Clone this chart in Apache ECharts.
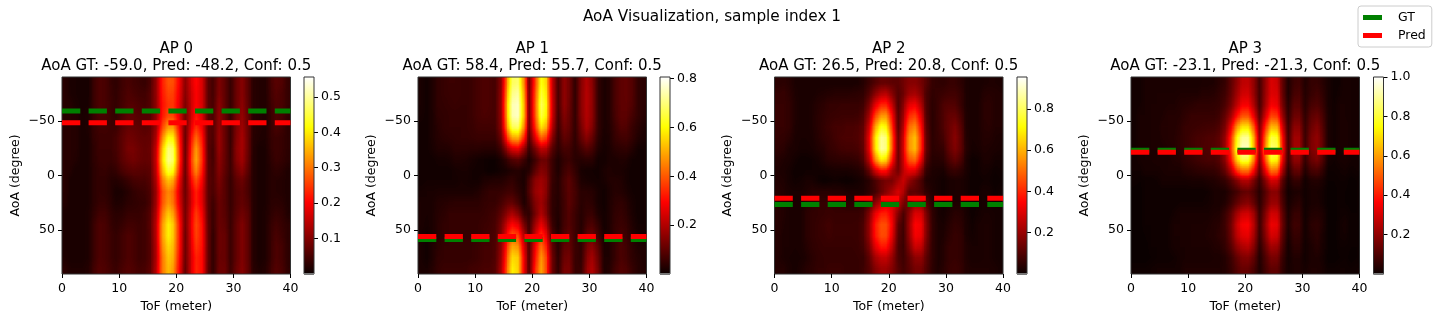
<!DOCTYPE html>
<html>
<head>
<meta charset="utf-8">
<title>AoA Visualization</title>
<script src="https://cdn.jsdelivr.net/npm/echarts@6/dist/echarts.min.js"></script>
<style>
    html, body { margin: 0; padding: 0; background: #fff; }
    #page { position: relative; width: 1438px; height: 321px; overflow: hidden; }
    #overlay { position: absolute; left: 0; top: 0; width: 1438px; height: 321px; }
    .plot { position: absolute; overflow: hidden; background: #000; filter: url(#hot); }
    .cells { position: absolute; left: 0; top: 0; transform-origin: 0 0; }
</style>
</head>
<body>
<svg width="0" height="0" style="position:absolute">
    <filter id="hot" x="0" y="0" width="1" height="1" color-interpolation-filters="sRGB">
        <feComponentTransfer>
            <feFuncR id="hotR" type="table"></feFuncR>
            <feFuncG id="hotG" type="table"></feFuncG>
            <feFuncB id="hotB" type="table"></feFuncB>
        </feComponentTransfer>
    </filter>
</svg>
<div id="page"><div id="overlay"></div></div>
<script>
// values are hundredths, rows from AoA -85 to 85, columns from ToF 0.5 to 39.5
const tofCenters = Array.from({ length: 40 }, (_, i) => String(i + 0.5));
const aoaCenters = ['-85','-75','-65','-55','-45','-35','-25','-15','-5','5','15','25','35','45','55','65','75','85'];

const ap0Values = [
    [3,2,2,2,1,4,6,6,5,3,5,6,5,5,4,5,9,22,28,29,24,9,16,22,20,7,4,11,9,2,8,12,8,3,3,2,5,7,7,4],
    [3,2,2,2,1,4,6,6,5,3,5,6,6,5,5,6,9,22,27,27,23,9,15,21,20,7,4,11,9,2,8,12,8,3,3,2,5,7,6,4],
    [3,3,2,2,1,4,6,6,5,4,5,6,6,6,5,6,9,21,25,26,22,8,14,21,20,7,4,12,9,2,8,12,8,3,3,2,5,6,6,4],
    [3,3,3,2,2,4,6,6,5,4,5,7,7,6,6,6,9,21,25,26,21,7,14,22,20,7,4,13,10,2,8,13,9,3,3,2,4,6,6,4],
    [3,3,3,2,2,4,5,6,5,4,6,8,8,7,6,7,9,23,30,32,24,6,15,24,22,7,4,13,10,2,9,14,10,3,3,2,4,6,6,3],
    [3,3,3,2,2,4,5,5,5,5,7,9,9,8,7,7,9,28,39,42,28,4,17,29,25,7,4,14,10,2,9,15,10,3,3,2,4,5,5,3],
    [3,3,3,2,2,3,5,5,5,5,7,10,10,9,8,8,11,33,47,50,31,3,19,35,28,7,3,14,10,2,10,15,10,3,2,2,4,5,5,3],
    [3,3,3,2,2,3,5,5,5,5,7,9,10,9,8,8,11,36,50,54,33,3,20,38,29,7,3,13,10,2,10,15,10,3,2,2,3,5,5,3],
    [3,3,2,2,2,3,4,5,4,4,6,8,8,8,7,7,11,34,47,49,31,3,20,36,28,7,4,12,9,3,9,13,9,3,2,2,3,4,4,2],
    [3,2,2,2,2,3,4,4,3,3,4,5,6,6,6,6,10,30,39,40,26,4,18,30,25,7,5,11,8,3,7,10,7,3,2,2,3,3,3,2],
    [3,2,2,2,2,3,4,4,3,2,2,3,4,5,5,6,9,26,33,32,22,5,15,25,21,7,5,10,8,3,6,8,6,3,2,2,3,3,3,2],
    [3,2,2,2,2,3,4,4,3,2,2,3,3,4,4,5,9,26,32,31,21,6,14,24,21,7,4,9,8,3,6,8,7,3,2,2,3,3,3,2],
    [2,2,2,2,2,3,5,5,4,3,3,4,4,4,5,6,10,28,36,35,24,6,15,26,23,8,3,9,8,3,6,9,8,3,2,2,3,4,4,2],
    [2,2,2,2,2,4,6,6,4,3,4,5,5,5,5,6,11,31,41,40,27,6,16,28,25,8,3,9,9,3,7,11,9,3,2,2,4,5,5,3],
    [2,2,2,2,2,4,6,6,5,4,5,6,6,5,5,6,11,32,42,41,28,5,16,28,26,9,2,9,10,3,7,11,9,3,2,2,4,6,5,3],
    [2,2,2,2,2,4,6,6,5,4,5,6,6,5,5,6,10,31,40,39,28,5,15,26,26,9,2,9,10,3,7,11,9,3,2,2,4,6,6,3],
    [2,2,2,2,2,4,6,6,5,4,5,6,6,5,5,6,10,29,38,38,27,5,15,24,25,9,2,9,10,3,7,11,9,3,2,2,4,6,6,3],
    [3,2,2,2,2,4,6,6,5,4,5,6,6,5,5,6,10,28,36,36,26,5,14,23,25,9,2,8,10,3,7,11,9,3,2,2,4,6,6,3]
];

const ap1Values = [
    [3,2,3,5,6,7,7,7,6,7,8,9,9,8,9,40,66,72,56,4,30,62,62,28,4,18,17,2,14,22,19,6,3,3,8,11,12,10,6,4],
    [3,2,3,5,6,7,7,7,6,7,8,9,9,8,9,42,70,76,60,4,32,66,64,28,4,18,17,2,14,23,20,6,3,3,8,11,12,10,6,4],
    [3,2,3,5,6,6,7,7,6,7,8,9,9,8,9,46,74,80,64,4,34,70,68,30,4,18,17,2,14,23,20,6,3,3,8,11,12,10,6,4],
    [3,2,3,5,5,6,6,6,6,7,8,9,9,8,9,46,76,81,66,4,34,70,68,30,4,17,16,2,14,23,20,6,3,3,8,11,11,9,6,4],
    [2,2,3,4,5,6,6,6,6,7,8,8,8,8,9,44,72,78,62,4,32,64,62,28,4,15,15,3,13,22,19,6,3,3,7,10,10,8,5,3],
    [2,2,3,4,5,5,5,6,6,6,7,7,7,7,8,36,58,62,50,4,26,50,48,22,4,12,13,3,11,19,16,5,3,3,6,8,9,7,4,3],
    [2,2,3,4,4,4,5,5,5,5,5,5,5,5,6,20,32,38,28,4,14,28,28,14,4,9,10,4,8,13,11,4,3,3,5,6,7,5,3,2],
    [2,2,2,3,3,3,4,4,4,3,3,2,2,2,3,7,12,15,10,3,6,12,14,8,3,5,7,4,4,7,6,3,2,3,3,4,4,3,2,2],
    [2,2,2,2,2,2,3,3,3,3,2,2,1,1,2,2,3,4,4,2,7,14,15,8,2,6,9,6,3,2,3,2,3,4,3,3,3,2,2,2],
    [2,2,2,2,2,2,2,3,3,2,2,3,3,3,3,4,5,4,2,6,14,19,17,8,3,8,11,8,3,3,2,2,3,4,4,4,3,2,2,2],
    [2,3,3,3,3,3,3,3,3,3,3,4,5,5,5,6,7,5,2,8,18,21,18,7,3,8,12,9,4,4,4,3,2,3,4,4,3,2,2,2],
    [3,3,3,4,4,4,4,4,4,4,4,5,6,6,7,9,10,7,2,6,16,21,16,6,3,7,11,9,4,5,5,3,2,3,4,5,4,3,2,2],
    [3,3,3,4,4,5,5,5,5,5,6,6,7,7,9,13,17,14,4,3,10,20,14,5,3,7,10,8,4,6,6,3,2,3,5,6,5,3,2,2],
    [3,3,3,4,5,5,6,6,5,5,6,7,7,8,11,21,28,26,13,3,15,28,20,6,2,7,10,8,3,7,9,5,2,3,5,7,6,4,2,2],
    [3,2,3,4,5,6,6,6,5,6,6,7,8,8,12,26,38,38,22,3,20,36,28,9,2,8,11,8,3,9,12,8,2,3,6,8,7,4,3,2],
    [3,2,3,4,5,6,6,6,6,6,7,8,8,8,13,30,48,50,28,3,24,44,36,12,2,10,13,8,3,12,17,11,3,3,6,9,8,5,3,3],
    [3,2,3,5,5,6,6,6,6,6,7,8,8,8,14,34,56,60,33,3,26,50,42,14,2,12,15,8,3,14,21,14,3,3,6,9,8,5,4,3],
    [3,2,3,5,6,6,6,6,6,7,7,8,8,8,14,35,58,62,35,3,28,52,44,16,2,13,16,7,3,15,22,16,3,3,6,9,9,6,4,3]
];

const ap2Values = [
    [4,5,5,3,3,3,3,3,3,3,3,3,3,3,3,4,6,9,10,11,11,12,16,18,18,17,13,8,6,5,6,7,6,4,3,3,4,4,4,3],
    [6,7,6,4,3,3,3,4,4,4,4,4,4,4,5,5,8,14,20,22,17,10,14,19,20,18,11,7,7,8,8,9,7,4,3,3,4,5,5,4],
    [7,8,7,4,3,3,4,5,5,6,6,6,6,6,6,7,12,26,35,38,28,8,16,28,32,24,11,5,8,10,11,11,8,4,3,3,5,6,5,4],
    [7,8,7,5,3,3,4,5,6,7,7,8,8,8,8,9,16,38,50,55,40,7,18,38,44,33,12,4,8,11,13,14,10,4,3,3,5,6,5,4],
    [7,8,7,4,3,3,4,5,6,8,9,9,10,10,10,11,20,52,68,72,48,6,20,46,56,40,13,4,8,10,14,18,13,4,3,3,5,6,5,4],
    [6,7,6,4,3,3,3,5,6,8,9,10,11,11,11,12,24,62,84,88,56,7,24,54,67,47,15,4,8,9,14,20,15,4,3,3,5,5,5,3],
    [6,6,5,4,3,3,3,5,5,7,8,9,10,10,10,12,24,66,90,95,60,8,26,56,70,50,16,5,7,7,13,20,16,5,3,3,5,5,4,3],
    [5,5,4,3,2,2,2,3,4,6,7,8,8,8,8,10,21,58,80,84,54,9,26,50,62,44,14,5,6,5,11,17,14,5,2,2,4,4,3,2],
    [4,4,3,2,2,2,2,2,3,4,4,4,4,5,5,6,13,34,48,50,33,11,24,36,40,28,9,5,4,3,7,10,8,4,2,2,3,3,2,2],
    [4,4,3,2,2,3,3,2,1,1,2,2,1,1,2,3,5,10,16,18,15,16,30,24,20,13,5,4,3,2,3,4,4,3,2,2,2,2,2,1],
    [5,5,4,3,3,4,5,5,4,4,3,4,3,3,3,3,4,6,10,14,18,30,30,14,10,8,4,4,3,2,3,4,4,3,2,2,3,3,2,2],
    [5,5,4,3,3,4,5,6,6,6,6,6,5,5,5,5,7,12,20,26,28,32,22,10,18,18,10,4,3,2,3,4,4,3,2,2,3,3,2,2],
    [5,5,4,3,3,5,6,7,7,8,7,7,7,7,7,8,13,29,36,38,33,22,8,16,28,30,18,6,3,2,3,5,5,3,2,2,3,3,3,2],
    [5,5,4,3,3,5,6,7,8,9,8,8,8,8,8,9,16,37,46,48,40,15,5,18,36,38,22,7,3,3,4,6,6,4,2,3,4,4,3,2],
    [5,4,4,3,3,5,6,7,8,9,8,8,8,8,8,9,16,38,48,50,40,13,5,18,37,38,22,7,3,3,5,7,7,4,2,3,4,4,3,2],
    [5,4,4,3,3,5,6,7,7,8,8,8,8,8,8,9,14,32,42,44,34,11,5,16,31,33,19,7,3,4,6,8,7,4,3,3,4,4,3,2],
    [5,4,3,3,3,4,5,6,7,7,7,7,7,7,7,8,11,24,30,32,26,11,6,12,22,24,15,7,3,4,6,8,7,5,3,3,4,4,3,2],
    [4,4,3,2,3,4,5,6,6,7,7,7,6,6,6,7,9,16,21,22,19,12,8,10,15,17,12,6,3,4,6,8,7,4,3,3,3,3,3,2]
];

const ap3Values = [
    [2,2,3,3,3,3,3,3,3,3,3,3,3,3,4,5,7,11,19,27,29,25,4,18,32,33,18,2,8,11,3,7,8,6,3,2,2,3,3,2],
    [2,2,3,3,4,4,4,4,4,4,4,4,5,5,5,6,8,12,21,29,31,26,4,19,32,34,19,2,9,12,3,7,9,7,3,2,2,3,3,2],
    [2,2,3,4,4,4,4,4,5,5,5,6,6,6,6,7,9,14,24,33,35,28,4,20,34,36,20,2,11,14,3,9,11,9,3,2,3,3,3,2],
    [2,3,3,4,4,4,5,5,5,6,7,7,7,7,7,8,11,18,31,42,45,35,4,23,42,44,24,2,14,18,3,11,15,11,3,2,3,3,3,2],
    [2,3,3,4,4,5,5,5,6,7,8,8,9,9,9,10,14,26,52,62,66,54,5,34,58,62,36,2,18,24,4,14,19,14,3,2,3,4,3,2],
    [2,3,3,4,4,5,5,6,6,8,9,10,10,11,11,12,18,35,72,86,92,74,5,44,78,84,48,2,22,29,4,17,23,17,3,2,3,4,3,2],
    [2,3,3,4,4,4,5,5,6,8,9,10,11,11,12,13,20,39,80,96,100,80,5,50,88,95,54,2,24,31,4,18,24,18,3,2,3,4,3,2],
    [2,3,3,3,4,4,4,5,5,7,8,10,10,11,11,12,18,36,74,90,94,76,5,46,84,90,50,2,22,29,4,16,21,16,3,2,3,3,3,2],
    [2,2,3,3,3,3,4,4,4,6,6,7,8,8,9,10,14,26,54,64,68,56,5,34,62,68,38,2,15,21,3,11,14,11,2,2,2,3,2,2],
    [2,2,2,2,2,3,3,3,3,3,4,4,4,5,5,6,8,13,22,30,33,25,4,18,36,40,20,2,8,11,2,5,6,5,2,2,2,2,2,1],
    [1,1,2,2,2,2,2,2,2,2,2,2,2,2,3,3,4,6,9,13,15,13,3,10,20,22,12,2,4,5,2,3,3,3,1,1,2,2,1,1],
    [1,1,2,2,2,2,2,2,2,2,2,2,2,2,3,3,4,6,9,13,16,13,2,10,20,22,12,2,4,6,2,3,3,3,1,1,2,2,1,1],
    [1,1,2,2,2,2,2,2,3,3,3,3,3,3,4,4,6,10,21,26,29,25,2,15,28,30,16,2,7,9,2,4,5,4,2,1,2,2,2,1],
    [1,1,2,2,2,2,2,3,3,3,4,4,4,4,5,5,8,13,29,36,39,33,2,18,36,38,20,2,9,11,2,5,7,5,2,1,2,3,2,1],
    [1,1,2,2,2,2,2,3,3,3,4,4,4,5,5,6,8,13,29,35,38,32,2,17,34,36,19,2,8,10,2,5,7,5,2,1,2,3,2,1],
    [1,1,1,2,2,2,2,3,3,3,4,4,4,4,5,5,7,11,22,27,30,26,2,13,26,28,15,2,6,8,2,4,6,4,2,1,2,2,2,1],
    [1,1,1,2,2,2,2,2,3,3,3,3,3,3,4,4,5,8,16,20,22,19,2,10,19,21,11,2,5,6,2,3,5,3,2,1,2,2,2,1],
    [1,1,1,1,2,2,2,2,2,3,3,3,3,3,3,3,4,6,10,14,15,12,2,7,13,14,8,2,3,4,2,3,3,3,1,1,1,2,1,1]
];

const heatValues = [ap0Values, ap1Values, ap2Values, ap3Values];
const panelNames = ['AP 0', 'AP 1', 'AP 2', 'AP 3'];
const aoaGt = [-59.0, 58.4, 26.5, -23.1];
const aoaPred = [-48.2, 55.7, 20.8, -21.3];
const aoaConf = [0.5, 0.5, 0.5, 0.5];
const colorMax = [0.556, 0.807, 0.955, 1.0];
const colorTicks = [
    [0.1, 0.2, 0.3, 0.4, 0.5],
    [0.2, 0.4, 0.6, 0.8],
    [0.2, 0.4, 0.6, 0.8],
    [0.2, 0.4, 0.6, 0.8, 1.0]
];
const tofTicks = [0, 10, 20, 30, 40];
const aoaTicks = [-50, 0, 50];

const plotLeft = [62, 418, 774.5, 1131];
const plotWidth = 228.5;
const plotTop = 77;
const plotHeight = 197;
const barLeft = [304, 660, 1017, 1373.5];
const barWidth = 10;

const fontName = '"DejaVu Sans", sans-serif';

// matplotlib hot
const clamp01 = v => Math.max(0, Math.min(1, v));
const hotR = t => clamp01(0.0416 + (1 - 0.0416) * t / 0.365079);
const hotG = t => clamp01((t - 0.365079) / (0.746032 - 0.365079));
const hotB = t => clamp01((t - 0.746032) / (1 - 0.746032));
const hotSteps = Array.from({ length: 129 }, (_, i) => i / 128);
const hotStops = hotSteps.map(t => 'rgb(' + Math.round(255 * hotR(t)) + ',' + Math.round(255 * hotG(t)) + ',' + Math.round(255 * hotB(t)) + ')');

document.getElementById('hotR').setAttribute('tableValues', hotSteps.map(hotR).join(' '));
document.getElementById('hotG').setAttribute('tableValues', hotSteps.map(hotG).join(' '));
document.getElementById('hotB').setAttribute('tableValues', hotSteps.map(hotB).join(' '));

// each heatmap is drawn in gray at one pixel per cell and stretched,
// the svg filter then applies hot to the smoothed values, like imshow does
const page = document.getElementById('page');
heatValues.forEach((rows, p) => {
    const plot = document.createElement('div');
    plot.className = 'plot';
    plot.style.left = plotLeft[p] + 'px';
    plot.style.top = plotTop + 'px';
    plot.style.width = plotWidth + 'px';
    plot.style.height = plotHeight + 'px';

    const div = document.createElement('div');
    div.className = 'cells';
    div.style.width = tofCenters.length + 'px';
    div.style.height = aoaCenters.length + 'px';
    div.style.transform = 'scale(' + plotWidth / tofCenters.length + ',' + plotHeight / aoaCenters.length + ')';
    plot.appendChild(div);
    page.insertBefore(plot, page.firstChild);

    const data = [];
    rows.forEach((row, y) => row.forEach((v, x) => data.push([x, y, v / 100])));

    const cells = echarts.init(div, null, { devicePixelRatio: 1 });
    cells.setOption({
        animation: false,
        grid: { left: 0, right: 0, top: 0, bottom: 0 },
        xAxis: { type: 'category', data: tofCenters, show: false },
        yAxis: { type: 'category', data: aoaCenters, inverse: true, show: false },
        visualMap: { show: false, min: 0, max: colorMax[p], inRange: { color: ['#000', '#fff'] } },
        series: [{ type: 'heatmap', data, progressive: 0, silent: true }]
    });
});

const grids = [];
const xAxes = [];
const yAxes = [];
const series = [];
const graphics = [];
const titles = [{
    text: 'AoA Visualization, sample index 1',
    left: 712,
    top: 10,
    padding: 0,
    textAlign: 'center',
    textStyle: { fontFamily: fontName, fontSize: 15.3, fontWeight: 'normal', color: '#000' }
}];

const axisText = { fontFamily: fontName, fontSize: 12.5, color: '#000' };
const nameText = { fontFamily: fontName, fontSize: 12.5, color: '#000' };

panelNames.forEach((name, p) => {
    grids.push({
        left: plotLeft[p],
        top: plotTop,
        width: plotWidth,
        height: plotHeight,
        show: true,
        backgroundColor: 'transparent',
        borderColor: '#333',
        borderWidth: 1
    });
    xAxes.push({
        type: 'value',
        gridIndex: p,
        min: 0,
        max: 40,
        name: 'ToF (meter)',
        nameLocation: 'middle',
        nameGap: 25,
        nameTextStyle: nameText,
        axisLine: { show: false, onZero: false },
        splitLine: { show: false },
        axisTick: { length: 4, lineStyle: { color: '#000' }, customValues: tofTicks },
        axisLabel: { ...axisText, margin: 8, customValues: tofTicks }
    });
    yAxes.push({
        type: 'value',
        gridIndex: p,
        inverse: true,
        min: -90,
        max: 90,
        name: 'AoA (degree)',
        nameLocation: 'middle',
        nameGap: 40,
        nameTextStyle: nameText,
        axisLine: { show: false, onZero: false },
        splitLine: { show: false },
        axisTick: { length: 4, lineStyle: { color: '#000' }, customValues: aoaTicks },
        axisLabel: {
            ...axisText,
            margin: 7,
            customValues: aoaTicks,
            formatter: v => String(v).replace('-', '\u2212')
        }
    });
    const dash = { width: 5, type: [18.3, 8.3], cap: 'butt' };
    series.push({
        name: 'GT',
        type: 'line',
        xAxisIndex: p,
        yAxisIndex: p,
        data: [[0, aoaGt[p]], [40, aoaGt[p]]],
        symbol: 'none',
        silent: true,
        itemStyle: { color: '#008000' },
        lineStyle: { ...dash, color: '#008000' }
    }, {
        name: 'Pred',
        type: 'line',
        xAxisIndex: p,
        yAxisIndex: p,
        data: [[0, aoaPred[p]], [40, aoaPred[p]]],
        symbol: 'none',
        silent: true,
        itemStyle: { color: '#ff0000' },
        lineStyle: { ...dash, color: '#ff0000' }
    });
    titles.push({
        text: name + '\nAoA GT: ' + aoaGt[p].toFixed(1) + ', Pred: ' + aoaPred[p].toFixed(1) + ', Conf: ' + aoaConf[p].toFixed(1),
        left: plotLeft[p] + plotWidth / 2,
        top: 41,
        padding: 0,
        textAlign: 'center',
        textStyle: { fontFamily: fontName, fontSize: 15, fontWeight: 'normal', color: '#000', lineHeight: 17 }
    });
});

panelNames.forEach((name, p) => {
    const g = grids.length;
    grids.push({
        left: barLeft[p],
        top: plotTop,
        width: barWidth,
        height: plotHeight,
        show: true,
        backgroundColor: 'transparent',
        borderColor: '#333',
        borderWidth: 1,
        z: 5
    });
    xAxes.push({
        type: 'category',
        gridIndex: g,
        data: ['c'],
        show: false
    });
    yAxes.push({
        type: 'value',
        gridIndex: g,
        position: 'right',
        min: 0,
        max: colorMax[p],
        axisLine: { show: false },
        splitLine: { show: false },
        axisTick: { show: true, length: 4, lineStyle: { color: '#000' }, customValues: colorTicks[p] },
        axisLabel: {
            ...axisText,
            margin: 7,
            customValues: colorTicks[p],
            formatter: v => v.toFixed(1)
        }
    });
    series.push({
        type: 'bar',
        xAxisIndex: g,
        yAxisIndex: g,
        data: [colorMax[p]],
        barWidth: '100%',
        silent: true,
        itemStyle: {
            color: new echarts.graphic.LinearGradient(0, 1, 0, 0, hotStops.map((c, i) => ({ offset: i / 128, color: c })))
        }
    });
    // the gray foot of the colorbar outline
    graphics.push({
        type: 'rect',
        silent: true,
        z: 100,
        shape: { x: barLeft[p], y: plotTop + plotHeight - 1, width: barWidth, height: 2 },
        style: { fill: '#777' }
    });
});

const chart = echarts.init(document.getElementById('overlay'), null, { devicePixelRatio: 1 });
chart.setOption({
    animation: false,
    backgroundColor: 'transparent',
    title: titles,
    grid: grids,
    xAxis: xAxes,
    yAxis: yAxes,
    series: series,
    graphic: graphics,
    legend: {
        data: ['GT', 'Pred'],
        orient: 'vertical',
        left: 1358,
        top: 6,
        icon: 'rect',
        itemWidth: 19,
        itemHeight: 5,
        itemGap: 5,
        padding: [5, 6, 5, 5],
        borderColor: '#ccc',
        borderWidth: 1,
        borderRadius: 3,
        selectedMode: false,
        textStyle: { fontFamily: fontName, fontSize: 12.5, color: '#000', padding: [0, 0, 0, 11] }
    }
});
</script>
</body>
</html>
